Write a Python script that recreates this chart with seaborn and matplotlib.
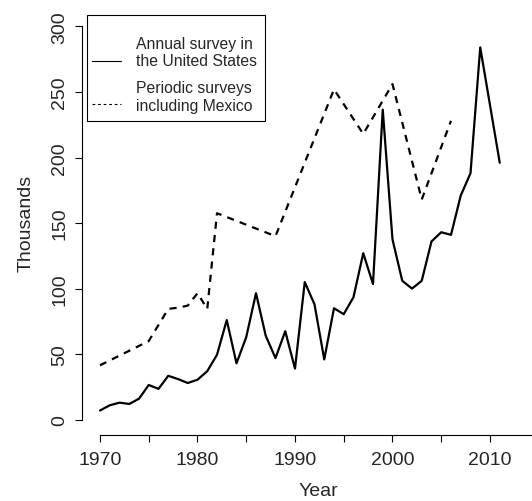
import matplotlib
matplotlib.use("Agg")
import matplotlib.pyplot as plt
import seaborn as sns
from matplotlib.lines import Line2D
from matplotlib.patches import Rectangle
from matplotlib.ticker import MultipleLocator

# annual survey (US), thousands
us_years = list(range(1970, 2012))
us_values = [7, 11, 13, 12, 16, 26.5, 23.5, 33.5, 31, 28, 30.5, 37, 49.5, 76, 43, 63, 96.5,
             64, 47, 67.5, 39, 105, 88, 46, 85, 80.5, 93.5, 127, 103.5, 236.5, 137.5, 106,
             100, 106, 136, 143, 141, 171, 188, 284, 240, 196]

# periodic surveys including Mexico, thousands
mx_years = [1970, 1975, 1977, 1978, 1979, 1980, 1981, 1982, 1988, 1994, 1997, 2000, 2003, 2006]
mx_values = [41.5, 60, 84.5, 85.5, 87, 96.5, 84.5, 157.5, 140, 252, 218, 256, 168, 228]

legend_labels = ["Annual survey in\nthe United States", "Periodic surveys\nincluding Mexico"]

sns.set_style("ticks")
plt.rcParams['font.family'] = ['Liberation Sans', 'DejaVu Sans']

W, H = 532, 502
fig = plt.figure(figsize=(W / 100, H / 100), dpi=100)

# plot region in pixels (runs off the right edge like the original)
left, right, top, bottom = 82.3, 556, 11.7, 436
ax = fig.add_axes([left / W, 1 - bottom / H, (right - left) / W, (bottom - top) / H])

sns.lineplot(x=us_years, y=us_values, color='black', lw=1.6, ax=ax)
sns.lineplot(x=mx_years, y=mx_values, color='black', lw=1.6,
             linestyle=(0, (3.2, 2.8)), ax=ax)

ax.set_xlim(1968.185, 2016.77)
ax.set_ylim(-11.67, 312)

sns.despine(ax=ax)
ax.spines['left'].set_bounds(0, 300)
ax.spines['bottom'].set_bounds(1970, 2015)
for s in ['left', 'bottom']:
    ax.spines[s].set_linewidth(0.8)
    ax.spines[s].set_color('black')

ax.set_xticks([1970, 1980, 1990, 2000, 2010])
ax.xaxis.set_minor_locator(MultipleLocator(5))
ax.set_yticks([0, 50, 100, 150, 200, 250, 300])
ax.tick_params(axis='both', which='both', length=5, width=0.8, color='black',
               labelsize=14, direction='out')
ax.tick_params(axis='x', pad=6.5)
ax.tick_params(axis='y', pad=5)
for lab in ax.get_yticklabels():
    lab.set_rotation(90)
    lab.set_va('center')

ax.set_xlabel('Year', fontsize=14)
ax.set_ylabel('Thousands', fontsize=14)
ax.xaxis.set_label_coords((318 - left) / (right - left), (bottom - 483) / (bottom - top))
ax.yaxis.set_label_coords((35 - left) / (right - left), 0.5)

# legend box drawn like the R one
def fx(x):
    return x / W

def fy(y):
    return 1 - y / H

fig.patches.append(Rectangle((fx(87.3), fy(122)), fx(265) - fx(87.3), fy(15.7) - fy(122),
                             transform=fig.transFigure, fill=False, lw=0.8, ec='black'))
fig.lines.append(Line2D([fx(92), fx(121)], [fy(62), fy(62)], transform=fig.transFigure,
                        color='black', lw=0.8))
fig.lines.append(Line2D([fx(92), fx(121)], [fy(105), fy(105)], transform=fig.transFigure,
                        color='black', lw=0.8, linestyle=(0, (2.5, 2.5))))
fig.text(fx(136), fy(53), legend_labels[0], fontsize=11.3, va='center', ha='left',
         linespacing=1.25)
fig.text(fx(136), fy(97), legend_labels[1], fontsize=11.3, va='center', ha='left',
         linespacing=1.25)

fig.savefig('out.png', dpi=100)
